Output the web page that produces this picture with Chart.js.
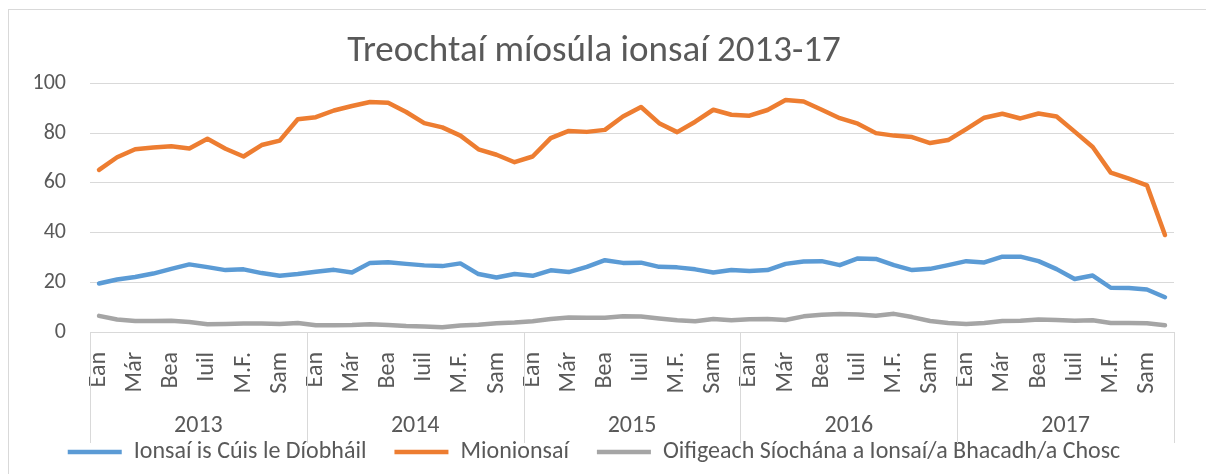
<!DOCTYPE html>
<html>
<head>
<meta charset="utf-8">
<title>Treochtaí míosúla ionsaí 2013-17</title>
<script src="https://cdn.jsdelivr.net/npm/chart.js@4"></script>
<style>
  html, body { margin: 0; padding: 0; background: #ffffff; }
  #wrap { position: relative; width: 1206px; height: 474px; }
</style>
</head>
<body>
<div id="wrap"><canvas id="trendChart"></canvas></div>
<script>
// chart data
const chartTitle = "Treochtaí míosúla ionsaí 2013-17";
const years = ["2013", "2014", "2015", "2016", "2017"];
const monthNames = ["Ean", "Fea", "Már", "Aib", "Bea", "Mei", "Iuil", "Lún", "M.F.", "D.F.", "Sam", "Nol"];
const seriesNames = [
    "Ionsaí is Cúis le Díobháil",
    "Mionionsaí",
    "Oifigeach Síochána a Ionsaí/a Bhacadh/a Chosc"
];

const harmAssault = [
    19.5, 21.1, 22.1, 23.5, 25.4, 27.2, 26.1, 24.9, 25.2, 23.7, 22.6, 23.3,
    24.2, 25.0, 23.9, 27.8, 28.1, 27.4, 26.8, 26.5, 27.6, 23.3, 21.9, 23.3,
    22.6, 24.8, 24.1, 26.2, 28.9, 27.8, 27.9, 26.2, 26.0, 25.2, 23.9, 24.9,
    24.5, 24.9, 27.4, 28.4, 28.5, 26.9, 29.6, 29.4, 26.9, 24.9, 25.4, 26.9,
    28.5, 28.0, 30.3, 30.3, 28.5, 25.3, 21.3, 22.7, 17.8, 17.7, 17.1, 14.0
];
const minorAssault = [
    65.2, 70.3, 73.5, 74.2, 74.7, 73.8, 77.7, 73.7, 70.6, 75.2, 77.0, 85.6,
    86.4, 89.1, 90.9, 92.5, 92.2, 88.5, 84.0, 82.3, 79.0, 73.5, 71.3, 68.3,
    70.6, 78.0, 80.9, 80.5, 81.3, 86.7, 90.5, 84.0, 80.4, 84.6, 89.4, 87.4,
    87.0, 89.3, 93.3, 92.7, 89.4, 86.0, 83.8, 80.0, 79.0, 78.4, 76.0, 77.2,
    81.6, 86.2, 87.8, 85.9, 87.9, 86.7, 80.6, 74.4, 64.1, 61.7, 59.0, 39.0
];
const gardaAssault = [
    6.5, 5.0, 4.4, 4.4, 4.5, 4.0, 3.1, 3.2, 3.4, 3.4, 3.2, 3.6,
    2.7, 2.7, 2.8, 3.1, 2.8, 2.4, 2.2, 1.9, 2.6, 2.9, 3.5, 3.8,
    4.3, 5.2, 5.8, 5.7, 5.7, 6.3, 6.2, 5.4, 4.7, 4.3, 5.2, 4.7,
    5.1, 5.2, 4.8, 6.3, 6.9, 7.2, 7.0, 6.5, 7.3, 6.0, 4.4, 3.6,
    3.2, 3.6, 4.4, 4.5, 5.0, 4.8, 4.5, 4.7, 3.6, 3.6, 3.5, 2.7
];

const yMin = 0;
const yMax = 100;
const yStep = 20;

// one label per month, 5 years in a row
const monthLabels = [];
years.forEach(() => monthNames.forEach(m => monthLabels.push(m)));

const textColor = "#595959";
const gridColor = "#d9d9d9";
const fontFamily = "Carlito, Calibri, Lato, 'Open Sans', sans-serif";

// light frame round the whole chart, like the office chart box
const chartFrame = {
    id: "chartFrame",
    beforeDraw(chart) {
        const ctx = chart.ctx;
        ctx.save();
        ctx.strokeStyle = gridColor;
        ctx.lineWidth = 1;
        ctx.strokeRect(8.5, 9.5, chart.width + 20, chart.height + 20);
        ctx.restore();
    }
};

// vertical dividers between the year groups under the axis
const yearDividers = {
    id: "yearDividers",
    afterDraw(chart) {
        const {ctx, chartArea} = chart;
        const x = chart.scales.x;
        ctx.save();
        ctx.strokeStyle = gridColor;
        ctx.lineWidth = 1;
        ctx.beginPath();
        for (let i = 0; i <= years.length; i++) {
            const px = Math.round(x.left + x.width * i / years.length) + 0.5;
            ctx.moveTo(px, chartArea.bottom);
            ctx.lineTo(px, 443);
        }
        ctx.stroke();
        ctx.restore();
    }
};

const lineStyle = {
    borderWidth: 4.5,
    pointRadius: 0,
    pointHoverRadius: 0,
    tension: 0,
    borderCapStyle: "round",
    borderJoinStyle: "round",
    fill: false
};

new Chart(document.getElementById("trendChart"), {
    type: "line",
    data: {
        labels: monthLabels,
        datasets: [
            { label: seriesNames[0], data: harmAssault, borderColor: "#5b9bd5", backgroundColor: "#5b9bd5", ...lineStyle },
            { label: seriesNames[1], data: minorAssault, borderColor: "#ed7d31", backgroundColor: "#ed7d31", ...lineStyle },
            { label: seriesNames[2], data: gardaAssault, borderColor: "#a5a5a5", backgroundColor: "#a5a5a5", ...lineStyle }
        ]
    },
    options: {
        responsive: true,
        maintainAspectRatio: false,
        animation: false,
        layout: {
            padding: { left: 8, right: 26, top: 0, bottom: 0 }
        },
        plugins: {
            title: {
                display: true,
                text: chartTitle,
                color: textColor,
                font: { family: fontFamily, size: 37, weight: "normal" },
                padding: { top: 30, bottom: 9 }
            },
            legend: {
                display: true,
                position: "bottom",
                labels: {
                    color: textColor,
                    font: { family: fontFamily, size: 24 },
                    usePointStyle: true,
                    pointStyle: "line",
                    pointStyleWidth: 54,
                    padding: 4,
                    // a little room after each entry, the legend padding is kept small
                    generateLabels(chart) {
                        const items = Chart.defaults.plugins.legend.labels.generateLabels(chart);
                        items.forEach((item, i) => {
                            if (i < items.length - 1) item.text += "\u2002\u2002";
                        });
                        return items;
                    }
                }
            },
            tooltip: { enabled: false }
        },
        scales: {
            x: {
                type: "category",
                offset: true,
                weight: 0,
                grid: { display: false },
                border: { display: false },
                ticks: {
                    color: textColor,
                    font: { family: fontFamily, size: 24 },
                    autoSkip: false,
                    maxRotation: 90,
                    minRotation: 90,
                    padding: 12,
                    callback: function (value, index) {
                        // every second month is shown, as in the source
                        return index % 2 === 0 ? this.getLabelForValue(value) : "";
                    }
                },
                afterFit(scale) { scale.height = 64; }
            },
            x2: {
                type: "category",
                labels: years,
                position: "bottom",
                offset: true,
                weight: 1,
                grid: { display: false },
                border: { display: false },
                ticks: {
                    color: textColor,
                    font: { family: fontFamily, size: 24 },
                    maxRotation: 0,
                    padding: 8
                },
                afterFit(scale) { scale.height = 40; }
            },
            y: {
                min: yMin,
                max: yMax,
                border: { display: false },
                grid: { color: gridColor, lineWidth: 1, drawTicks: false },
                ticks: {
                    stepSize: yStep,
                    color: textColor,
                    font: { family: fontFamily, size: 22 },
                    padding: 24
                },
                afterFit(scale) { scale.width = 82; }
            }
        }
    },
    plugins: [chartFrame, yearDividers]
});
</script>
</body>
</html>
